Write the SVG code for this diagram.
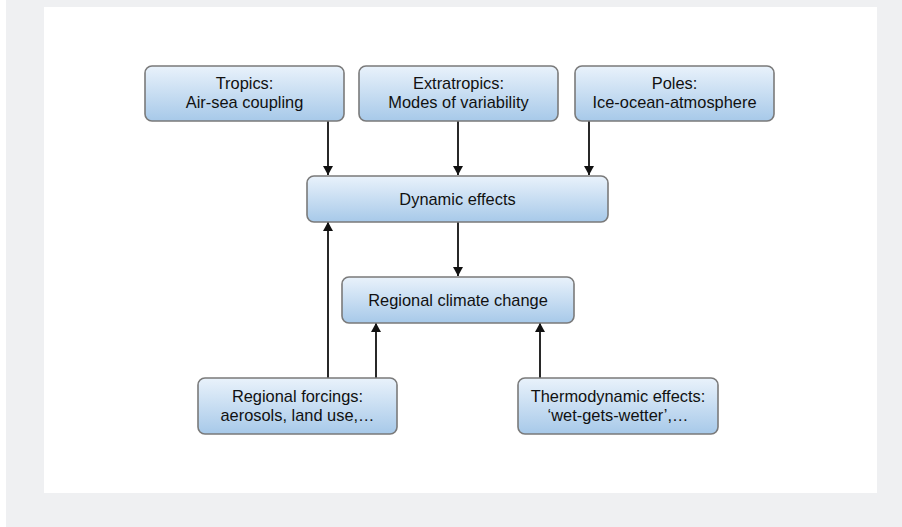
<svg xmlns="http://www.w3.org/2000/svg" width="902" height="527" viewBox="0 0 902 527">
<defs>
<linearGradient id="g" x1="0" y1="0" x2="0" y2="1">
<stop offset="0" stop-color="#e9f2fb"/>
<stop offset="1" stop-color="#a7c9e9"/>
</linearGradient>
<marker id="ah" viewBox="0 0 10 10" refX="10" refY="5" markerWidth="9" markerHeight="10" markerUnits="userSpaceOnUse" orient="auto" preserveAspectRatio="none">
<path d="M0,0 L10,5 L0,10 z" fill="#111"/>
</marker>
<style>
.box{fill:url(#g);stroke:#7a7a7a;stroke-width:1.6}
.t{font-family:"Liberation Sans",Arial,sans-serif;font-size:16.4px;fill:#111;text-anchor:middle}
.c{stroke:#111;stroke-width:1.8;fill:none;marker-end:url(#ah)}
</style>
</defs>
<rect x="6" y="0" width="896" height="527" fill="#eff0f2"/>
<rect x="44" y="7" width="833" height="486" fill="#ffffff"/>
<g id="connectors">
<line class="c" x1="328" y1="121" x2="328" y2="175"/>
<line class="c" x1="458" y1="121" x2="458" y2="175"/>
<line class="c" x1="589" y1="121" x2="589" y2="175"/>
<line class="c" x1="458" y1="222" x2="458" y2="276"/>
<line class="c" x1="328" y1="378" x2="328" y2="222"/>
<line class="c" x1="376" y1="378" x2="376" y2="323"/>
<line class="c" x1="540" y1="378" x2="540" y2="323"/>
</g>
<g id="tropics">
<rect class="box" x="145" y="66" width="199" height="55" rx="7"/>
<text class="t" x="244.5" y="89">Tropics:</text>
<text class="t" x="244.5" y="108">Air-sea coupling</text>
</g>
<g id="extratropics">
<rect class="box" x="359" y="66" width="199" height="55" rx="7"/>
<text class="t" x="458.5" y="89">Extratropics:</text>
<text class="t" x="458.5" y="108">Modes of variability</text>
</g>
<g id="poles">
<rect class="box" x="575" y="66" width="199" height="55" rx="7"/>
<text class="t" x="674.5" y="89">Poles:</text>
<text class="t" x="674.5" y="108">Ice-ocean-atmosphere</text>
</g>
<g id="dynamic">
<rect class="box" x="307" y="176" width="301" height="46" rx="7"/>
<text class="t" x="457.5" y="205">Dynamic effects</text>
</g>
<g id="regional">
<rect class="box" x="342" y="277" width="232" height="46" rx="7"/>
<text class="t" x="458" y="306">Regional climate change</text>
</g>
<g id="forcings">
<rect class="box" x="198" y="378" width="199" height="56" rx="7"/>
<text class="t" x="297.5" y="402">Regional forcings:</text>
<text class="t" x="297.5" y="421">aerosols, land use,…</text>
</g>
<g id="thermo">
<rect class="box" x="518" y="378" width="200" height="56" rx="7"/>
<text class="t" x="618" y="402">Thermodynamic effects:</text>
<text class="t" x="618" y="421">‘wet-gets-wetter’,…</text>
</g>
</svg>
